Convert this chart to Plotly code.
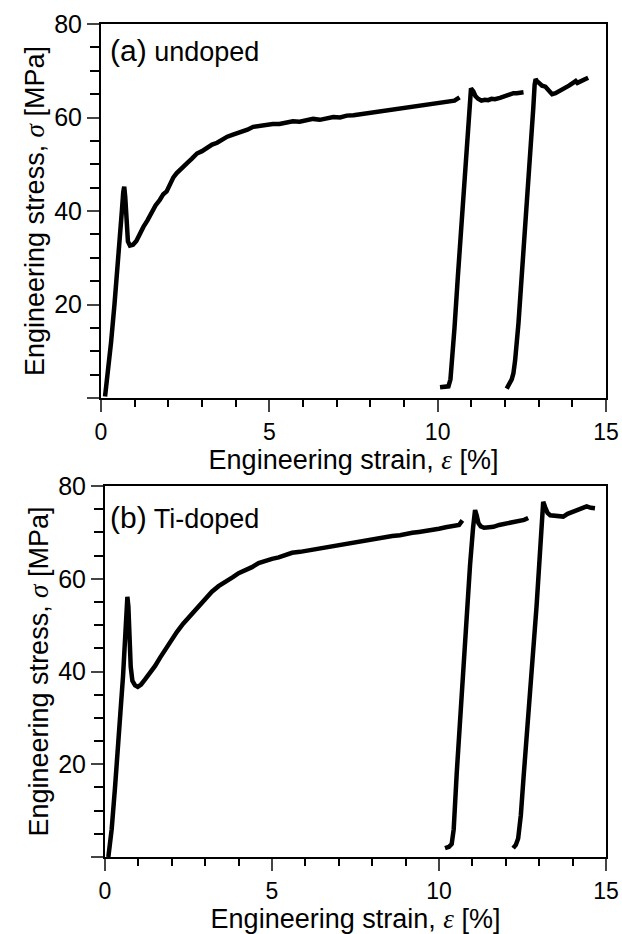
import plotly.graph_objects as go
from plotly.subplots import make_subplots

# (a) undoped: first loading, then two reloading segments
a1_strain = [0.12, 0.2, 0.3, 0.4, 0.5, 0.58, 0.62, 0.66, 0.69, 0.72, 0.76, 0.8, 0.86, 0.95, 1.05, 1.15,
             1.26, 1.38, 1.5, 1.62, 1.75, 1.85, 1.95, 2.05, 2.15, 2.25, 2.4, 2.55, 2.7, 2.85, 3.0, 3.15,
             3.3, 3.45, 3.6, 3.75, 3.9, 4.05, 4.2, 4.35, 4.52, 4.7, 4.9, 5.1, 5.3, 5.5, 5.7, 5.9, 6.1,
             6.3, 6.5, 6.7, 6.9, 7.1, 7.3, 7.5, 7.7, 7.9, 8.1, 8.3, 8.5, 8.7, 8.9, 9.1, 9.3, 9.5, 9.7,
             9.9, 10.1, 10.3, 10.5, 10.65]
a1_stress = [0.3, 5, 12, 20, 28, 35, 40, 44, 45.2, 43, 37, 33.5, 32.6, 32.8, 33.6, 35.2,
             36.6, 38, 39.6, 41.2, 42.4, 43.6, 44.2, 45.8, 47.2, 48.1, 49, 50.2, 51.2, 52.3, 52.8, 53.5,
             54.2, 54.6, 55.3, 55.9, 56.3, 56.6, 57.1, 57.4, 58.0, 58.2, 58.4, 58.6, 58.6, 59.0, 59.2, 59.1, 59.4,
             59.7, 59.5, 59.9, 60.1, 60.0, 60.4, 60.5, 60.7, 60.9, 61.1, 61.2, 61.5, 61.7, 61.8, 62.0, 62.2, 62.5, 62.7,
             62.9, 63.2, 63.4, 63.6, 64.3]
a2_strain = [10.07, 10.2, 10.32, 10.38, 10.42, 10.5, 10.6, 10.7, 10.8, 10.9, 10.96, 10.99, 11.06, 11.12,
             11.2, 11.3, 11.4, 11.5, 11.6, 11.7, 11.85, 11.95, 12.05, 12.15, 12.25, 12.35, 12.45, 12.55]
a2_stress = [2.3, 2.3, 2.5, 4, 7, 15, 26, 36.5, 47, 57.5, 64, 66.2, 65.6, 64.6,
             64.0, 63.6, 63.8, 63.7, 64.0, 63.9, 64.2, 64.5, 64.6, 64.9, 65.2, 65.2, 65.4, 65.4]
a3_strain = [12.05, 12.12, 12.2, 12.25, 12.3, 12.4, 12.5, 12.6, 12.7, 12.78, 12.84, 12.88, 12.91, 12.95,
             13.02, 13.1, 13.2, 13.3, 13.4, 13.5, 13.6, 13.7, 13.8, 13.9, 14.0, 14.1, 14.15, 14.25, 14.35, 14.47]
a3_stress = [2.0, 2.8, 4, 5.3, 8, 16, 26, 35, 45, 54, 62, 67, 68.2, 67.8,
             67.2, 66.8, 66.6, 65.8, 65.0, 65.2, 65.6, 66.0, 66.2, 66.8, 67.3, 67.8, 67.4, 67.8, 68.0, 68.5]

# (b) Ti-doped
b1_strain = [0.1, 0.2, 0.3, 0.38, 0.46, 0.54, 0.6, 0.64, 0.67, 0.7, 0.73, 0.77, 0.82, 0.9, 0.98, 1.08,
             1.2, 1.35, 1.5, 1.65, 1.85, 2.0, 2.15, 2.34, 2.5, 2.7, 2.85, 3.04, 3.2, 3.4, 3.6, 3.84,
             4.0, 4.2, 4.4, 4.6, 4.84, 5.0, 5.2, 5.4, 5.6, 5.84, 6.0, 6.2, 6.4, 6.6, 6.8, 7.0, 7.2,
             7.4, 7.6, 7.8, 8.0, 8.2, 8.4, 8.6, 8.83, 9.0, 9.2, 9.4, 9.6, 9.83, 10.0, 10.2, 10.4, 10.6, 10.7]
b1_stress = [0, 6, 15, 22, 31, 39, 46, 52, 56.1, 54, 47, 41, 38, 37, 36.7, 37.2,
             38.3, 39.6, 41.2, 43, 45.3, 47, 48.5, 50.3, 51.6, 53.2, 54.4, 56.1, 57.2, 58.4, 59.2, 60.4,
             61.2, 61.8, 62.5, 63.4, 64.0, 64.3, 64.6, 65.0, 65.6, 65.8, 66.0, 66.3, 66.5, 66.7, 67.0, 67.2, 67.6,
             67.9, 68.1, 68.4, 68.6, 68.7, 69.0, 69.2, 69.4, 69.7, 69.9, 70.1, 70.3, 70.4, 70.8, 71.1, 71.3, 71.6, 72.6]
b2_strain = [10.18, 10.3, 10.38, 10.44, 10.53, 10.63, 10.73, 10.83, 10.93, 11.02, 11.08, 11.13, 11.18,
             11.25, 11.35, 11.5, 11.63, 11.8, 11.95, 12.1, 12.22, 12.4, 12.55, 12.67]
b2_stress = [1.9, 2.2, 2.8, 6, 18, 30, 42, 54, 63, 71, 74.8, 73.6, 72.0,
             71.3, 71.0, 71.1, 71.2, 71.6, 71.8, 72.1, 72.3, 72.6, 72.7, 73.1]
b3_strain = [12.22, 12.3, 12.37, 12.45, 12.53, 12.62, 12.72, 12.82, 12.92, 13.0, 13.07, 13.12, 13.18,
             13.25, 13.33, 13.42, 13.55, 13.72, 13.85, 13.98, 14.12, 14.25, 14.42, 14.55, 14.67]
b3_stress = [1.9, 2.6, 4, 9, 17, 25, 35, 44.5, 54, 63, 71, 76.6, 75.4,
             74.2, 73.7, 73.6, 73.5, 73.4, 74.0, 74.4, 74.8, 75.1, 75.6, 75.3, 75.2]

x_ticks = [0, 5, 10, 15]
y_ticks = [0, 20, 40, 60, 80]
y_ticktext = ['', '20', '40', '60', '80']

FONT = 'Liberation Sans, Arial, sans-serif'
sig = "<span style=\"font-family:'Liberation Serif';font-style:italic\">σ</span>"
eps = "<span style=\"font-family:'Liberation Serif';font-style:italic\">ε</span>"

fig = make_subplots(rows=2, cols=1)
for xs, ys in [(a1_strain, a1_stress), (a2_strain, a2_stress), (a3_strain, a3_stress)]:
    fig.add_trace(go.Scatter(x=xs, y=ys, mode='lines', line=dict(color='black', width=4.5)), row=1, col=1)
for xs, ys in [(b1_strain, b1_stress), (b2_strain, b2_stress), (b3_strain, b3_stress)]:
    fig.add_trace(go.Scatter(x=xs, y=ys, mode='lines', line=dict(color='black', width=4.5)), row=2, col=1)

xax = dict(range=[0, 15], tickmode='array', tickvals=x_ticks, ticks='outside', ticklen=12, tickwidth=2,
           showline=True, linewidth=2, linecolor='black', mirror=True, showgrid=False, zeroline=False,
           tickfont=dict(size=23, color='black'), automargin=False,
           minor=dict(tickmode='linear', tick0=0, dtick=1, ticks='outside', ticklen=7, tickwidth=1.5,
                      tickcolor='black', showgrid=False),
           title=dict(text='Engineering strain, ' + eps + ' [%]', font=dict(size=27, color='black'), standoff=0))
yax = dict(range=[0, 80], tickmode='array', tickvals=y_ticks, ticktext=y_ticktext, ticks='outside', ticklen=12,
           tickwidth=2, showline=True, linewidth=2, linecolor='black', mirror=True, showgrid=False,
           zeroline=False, tickfont=dict(size=25, color='black'), automargin=False,
           minor=dict(tickmode='linear', tick0=0, dtick=5, ticks='outside', ticklen=9, tickwidth=1.5,
                      tickcolor='black', showgrid=False),
           title=dict(text='Engineering stress, ' + sig + ' [MPa]', font=dict(size=27, color='black'), standoff=2))

fig.update_layout(
    xaxis=dict(xax, domain=[101 / 622, 606 / 622]),
    yaxis=dict(yax, domain=[1 - 398 / 934, 1 - 24 / 934]),
    xaxis2=dict(xax, domain=[105 / 622, 606 / 622]),
    yaxis2=dict(yax, domain=[1 - 857 / 934, 1 - 486 / 934]),
    width=622, height=934,
    margin=dict(l=0, r=0, t=0, b=0),
    showlegend=False,
    template='plotly_white',
    plot_bgcolor='white',
    paper_bgcolor='white',
    font=dict(family=FONT, color='black'),
    annotations=[
        dict(text="<span style='font-size:30px'>(a)</span> undoped", x=108 / 622, y=1 - 51 / 934,
             xref='paper', yref='paper', xanchor='left', yanchor='middle', showarrow=False,
             font=dict(size=27, color='black')),
        dict(text="<span style='font-size:30px'>(b)</span> Ti-doped", x=108 / 622, y=1 - 517 / 934,
             xref='paper', yref='paper', xanchor='left', yanchor='middle', showarrow=False,
             font=dict(size=27, color='black')),
    ],
)

# the page body keeps its default 8px margin otherwise
fig.write_html("out.html", config={'displayModeBar': False},
               post_script="document.body.style.margin = '0';")
